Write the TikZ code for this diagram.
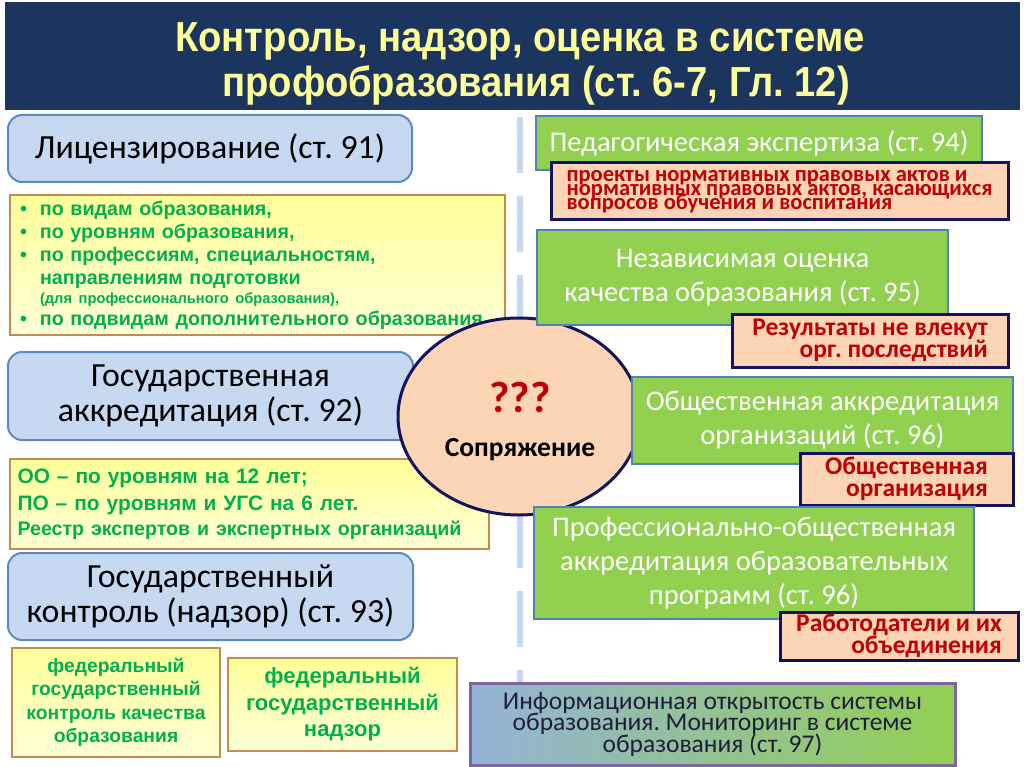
\documentclass[tikz,border=0pt]{standalone}
\usepackage{fontspec}
\setmainfont{Carlito}
\newfontfamily\arialf{Liberation Sans}
\newfontfamily\narrowf{Liberation Sans}[FakeStretch=0.91]
\usetikzlibrary{shapes.geometric}
\definecolor{titlebg}{HTML}{1C355E}
\definecolor{titletext}{HTML}{FFFF99}
\definecolor{bluefill}{HTML}{C6D9F1}
\definecolor{blueline}{HTML}{5A8AC6}
\definecolor{yeltop}{HTML}{FFFF99}
\definecolor{yelbot}{HTML}{FFFFD6}
\definecolor{yelline}{HTML}{C58B4E}
\definecolor{gtext}{HTML}{00B050}
\definecolor{grnfill}{HTML}{92D050}
\definecolor{grnline}{HTML}{4F81BD}
\definecolor{peachfill}{HTML}{FBD5B5}
\definecolor{peachline}{HTML}{14145E}
\definecolor{redtext}{HTML}{C00000}
\definecolor{infoblue}{HTML}{95B3D7}
\definecolor{infoline}{HTML}{8064A2}
\definecolor{infotext}{HTML}{1E1E3A}
\definecolor{divcol}{HTML}{C6D9F1}
\newcommand\tightlines{\lineskiplimit=-50pt\relax}
\frenchspacing
\begin{document}
\begin{tikzpicture}
  [x=1pt,y=-1pt,every node/.style={inner sep=0pt},
   bluebox/.style={draw=blueline,fill=bluefill,line width=2pt,rounded corners=14pt,
     align=center,font=\fontsize{33.8}{35}\selectfont},
   yelbox/.style={draw=yelline,line width=1.2pt,top color=yeltop,bottom color=yelbot,
     text=gtext},
   grnbox/.style={draw=grnline,fill=grnfill,line width=2pt,text=white,align=center,
     font=\fontsize{28.5}{34}\selectfont},
   peachbox/.style={draw=peachline,fill=peachfill,line width=3pt,text=redtext,
     font=\bfseries\fontsize{25.5}{21.5}\selectfont\tightlines},
   divider/.style={draw=divcol,line width=6pt,dash pattern=on 56pt off 23pt}]
  \useasboundingbox (0,0) rectangle (1024,767);
  \fill[white] (0,0) rectangle (1024,767);

  % title
  \node[fill=titlebg,minimum width=1015pt,minimum height=108pt] (bar) at (512.5,56) {};
  \node[anchor=base,text=titletext,font=\narrowf\bfseries\fontsize{42}{45}\selectfont]
    (title1) at (520,52) {Контроль, надзор, оценка в системе};
  \node[anchor=base,text=titletext,font=\narrowf\bfseries\fontsize{42}{45}\selectfont]
    (title2) at (536,97) {профобразования (ст. 6-7, Гл. 12)};

  % divider
  \coordinate (divtop) at (520,117);
  \coordinate (divbot) at (520,700);
  \path[divider] (divtop) -- (divbot);

  % left column
  \node[bluebox,minimum width=404pt,minimum height=67pt] (lic) at (210,148.5)
    {Лицензирование (ст. 91)};
  \node[yelbox,minimum width=495pt,minimum height=140pt,text width=475pt,align=left,
    font=\arialf\bfseries\fontsize{19.7}{23.2}\selectfont] (licitems) at (257.5,265)
    {\makebox[20pt][l]{•}по видам образования,\\
     \makebox[20pt][l]{•}по уровням образования,\\
     \makebox[20pt][l]{•}по профессиям, специальностям,\\
     \hspace*{20pt}направлениям подготовки\\[-4pt]
     \hspace*{20pt}{\fontsize{14.7}{16}\selectfont (для профессионального образования),}\\[-2pt]
     \makebox[20pt][l]{•}по подвидам дополнительного образования};
  \node[bluebox,minimum width=405pt,minimum height=88pt] (acc) at (210.5,396)
    {Государственная\\аккредитация (ст. 92)};
  \node[yelbox,minimum width=479pt,minimum height=90pt,text width=464pt,align=left,
    font=\arialf\bfseries\fontsize{20.9}{27}\selectfont] (accitems) at (249.5,504)
    {ОО – по уровням на 12 лет;\\
     ПО – по уровням и УГС на 6 лет.\\[-2pt]
     {\fontsize{19.6}{20}\selectfont Реестр экспертов и экспертных организаций}};
  \node[bluebox,minimum width=405pt,minimum height=87pt] (ctrl) at (210.5,596.5)
    {Государственный\\контроль (надзор) (ст. 93)};
  \node[yelbox,minimum width=208pt,minimum height=109pt,align=center,
    font=\arialf\bfseries\fontsize{19.3}{23.5}\selectfont] (fedq) at (116,702.5)
    {федеральный\\государственный\\контроль качества\\образования};
  \node[yelbox,minimum width=229pt,minimum height=93pt,align=center,
    font=\arialf\bfseries\fontsize{22}{26.5}\selectfont] (fedn) at (342.5,704.5)
    {федеральный\\государственный\\надзор};

  % centre
  \node[ellipse,draw=peachline,fill=peachfill,line width=3pt,minimum width=242pt,
    minimum height=197pt] (conj) at (519,416.5) {};
  \node[align=center,font=\bfseries\fontsize{27.5}{44}\selectfont] (conjtext) at (520,421)
    {{\color{redtext}\fontsize{44}{44}\selectfont ???}\\
     Сопряжение};

  % right column
  \node[grnbox,minimum width=446pt,minimum height=54pt] (ped) at (759,143)
    {Педагогическая экспертиза (ст. 94)};
  \node[peachbox,minimum width=457pt,minimum height=57pt,align=left,
    font=\bfseries\fontsize{22.5}{14}\selectfont\tightlines] (pedobj) at (779.5,191.5)
    {проекты нормативных правовых актов и\\
     нормативных правовых актов, касающихся\\
     вопросов обучения и воспитания};
  \node[grnbox,minimum width=411pt,minimum height=95pt] (indep) at (742.5,277.5)
    {Независимая оценка\\качества образования (ст. 95)};
  \node[peachbox,minimum width=276pt,minimum height=53pt,align=right] (indres) at (870,340.5)
    {Результаты не влекут\\орг. последствий};
  \node[grnbox,minimum width=381pt,minimum height=87pt] (soc) at (822.5,420.5)
    {Общественная аккредитация\\организаций (ст. 96)};
  \node[peachbox,minimum width=213pt,minimum height=52pt,align=right] (socorg) at (906.5,479)
    {Общественная\\организация};
  \node[grnbox,minimum width=440pt,minimum height=112pt] (prof) at (754,563)
    {Профессионально-общественная\\аккредитация образовательных\\программ (ст. 96)};
  \node[peachbox,minimum width=238pt,minimum height=48pt,align=right] (profemp) at (899,636)
    {Работодатели и их\\объединения};

  % bottom
  \node[draw=infoline,line width=3pt,left color=infoblue,right color=grnfill,
    minimum width=485pt,minimum height=82pt,align=center,text=infotext,
    font=\fontsize{25.5}{21.5}\selectfont\tightlines] (info) at (712.5,724)
    {Информационная открытость системы\\образования. Мониторинг в системе\\образования (ст. 97)};
\end{tikzpicture}
\end{document}
